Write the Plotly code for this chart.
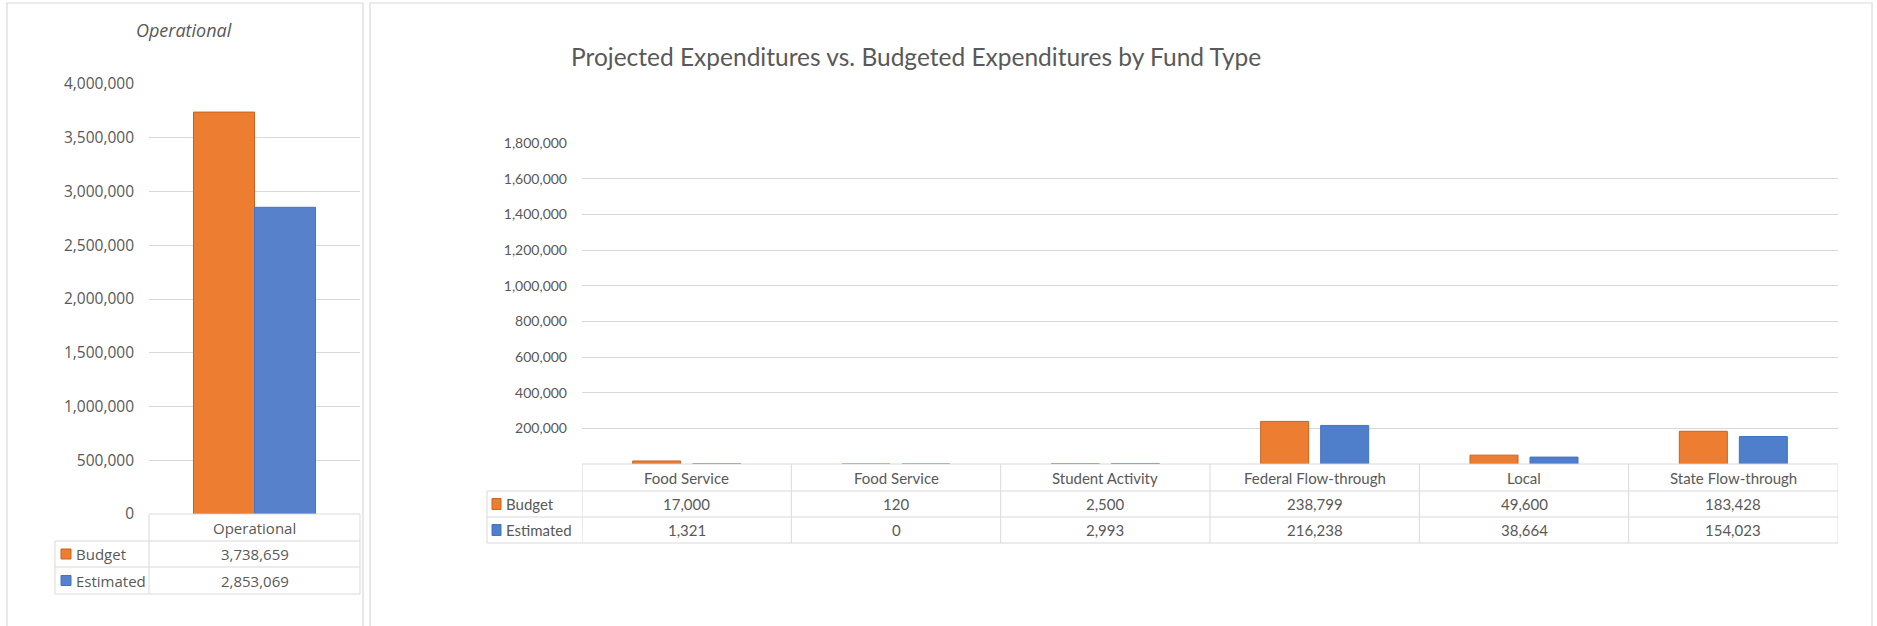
import plotly.graph_objects as go

# ---------------- data ----------------
op_category = ["Operational"]
op_budget = [3738659]
op_estimated = [2853069]

fund_categories = ["Food Service", "Food Service", "Student Activity",
                   "Federal Flow-through", "Local", "State Flow-through"]
fund_budget = [17000, 120, 2500, 238799, 49600, 183428]
fund_estimated = [1321, 0, 2993, 216238, 38664, 154023]

series_names = ["Budget", "Estimated"]
left_ticks = [0, 500000, 1000000, 1500000, 2000000, 2500000, 3000000, 3500000, 4000000]
right_ticks = [200000, 400000, 600000, 800000, 1000000, 1200000, 1400000, 1600000, 1800000]

title_main = "Projected Expenditures vs. Budgeted Expenditures by Fund Type"
title_left = "Operational"

# ---------------- styling ----------------
W, H = 1877, 626
ORANGE = "#ED7D31"
ORANGE_EDGE = "#C9621C"
BLUE = "#4F7FCA"
BLUE_EDGE = "#4472C4"
BLUE_LEFT = "#5782CB"
GRID = "#D9D9D9"
TXT = "#595959"
F_LEFT = "Open Sans"
F_RIGHT = "Lato"


def X(px):
    return px / W


def Y(py):
    return 1 - py / H


fig = go.Figure()

# left chart bars
lw = 61 / 211.0
fig.add_trace(go.Bar(x=[0], y=op_budget, name=series_names[0], xaxis="x", yaxis="y",
                     width=lw, offset=-lw, marker=dict(color=ORANGE, line=dict(color=ORANGE_EDGE, width=1))))
fig.add_trace(go.Bar(x=[0], y=op_estimated, name=series_names[1], xaxis="x", yaxis="y",
                     width=lw, offset=0, marker=dict(color=BLUE_LEFT, line=dict(color=BLUE_EDGE, width=1))))

# right chart bars
xs = list(range(len(fund_categories)))
colw = (1838 - 582) / 6.0
bw = 48 / colw
gap = 12 / colw
fig.add_trace(go.Bar(x=xs, y=fund_budget, name=series_names[0], xaxis="x2", yaxis="y2",
                     width=bw, offset=-(bw + gap / 2),
                     marker=dict(color=ORANGE, line=dict(color=ORANGE_EDGE, width=1))))
fig.add_trace(go.Bar(x=xs, y=fund_estimated, name=series_names[1], xaxis="x2", yaxis="y2",
                     width=bw, offset=gap / 2,
                     marker=dict(color=BLUE, line=dict(color=BLUE_EDGE, width=1))))

shapes = []
annotations = []


def line(x0, y0, x1, y1, xref="paper", color=GRID, width=1):
    shapes.append(dict(type="line", xref=xref, yref="paper", x0=x0, x1=x1,
                       y0=Y(y0), y1=Y(y1), line=dict(color=color, width=width), layer="above"))


def text(t, x, y, font, xref="paper", xanchor="center"):
    annotations.append(dict(text=t, x=x, y=y, xref=xref, yref="paper", xanchor=xanchor,
                            yanchor="middle", showarrow=False, font=font))


# panel borders
shapes.append(dict(type="rect", xref="paper", yref="paper", x0=X(7), x1=X(363), y0=Y(3), y1=Y(640),
                   line=dict(color=GRID, width=1.2), layer="below"))
shapes.append(dict(type="rect", xref="paper", yref="paper", x0=X(370), x1=X(1872), y0=Y(3), y1=Y(640),
                   line=dict(color=GRID, width=1.2), layer="below"))

# ---------- left table ----------
lt_top, lt_r1, lt_r2, lt_bot = 514, 541, 567, 594
lt_leg, lt_data, lt_right = 55, 149, 360
line(X(lt_data), lt_top, X(lt_right), lt_top)
for yy in (lt_r1, lt_r2, lt_bot):
    line(X(lt_leg), yy, X(lt_right), yy)
line(X(lt_leg), lt_r1, X(lt_leg), lt_bot)
line(X(lt_data), lt_top, X(lt_data), lt_bot)
line(X(lt_right), lt_top, X(lt_right), lt_bot)

tf_left = dict(family=F_LEFT, size=15, color=TXT)
text(op_category[0], 0, Y((lt_top + lt_r1) / 2), tf_left, xref="x")
rows_left = [(op_budget, ORANGE, ORANGE_EDGE, lt_r1, lt_r2), (op_estimated, BLUE_LEFT, BLUE_EDGE, lt_r2, lt_bot)]
for (vals, c, ce, ya, yb), nm in zip(rows_left, series_names):
    yc = (ya + yb) / 2
    text(f"{vals[0]:,}", 0, Y(yc), tf_left, xref="x")
    shapes.append(dict(type="rect", xref="paper", yref="paper", x0=X(61), x1=X(71), y0=Y(yc - 5), y1=Y(yc + 5),
                       fillcolor=c, line=dict(color=ce, width=1)))
    text(nm, X(74), Y(yc), tf_left, xanchor="left")

# ---------- right table ----------
rt_top, rt_r1, rt_r2, rt_bot = 464, 491, 517, 543
rt_leg, rt_data, rt_right = 487, 582, 1838
line(X(rt_data), rt_top, X(rt_right), rt_top)
for yy in (rt_r1, rt_r2, rt_bot):
    line(X(rt_leg), yy, X(rt_right), yy)
line(X(rt_leg), rt_r1, X(rt_leg), rt_bot)
for k in range(len(fund_categories) + 1):
    shapes.append(dict(type="line", xref="x2", yref="paper", x0=k - 0.5, x1=k - 0.5,
                       y0=Y(rt_top), y1=Y(rt_bot), line=dict(color=GRID, width=1), layer="above"))

tf_right = dict(family=F_RIGHT, size=15, color=TXT)
for i, cat in enumerate(fund_categories):
    text(cat, i, Y((rt_top + rt_r1) / 2), tf_right, xref="x2")
    text(f"{fund_budget[i]:,}", i, Y((rt_r1 + rt_r2) / 2), tf_right, xref="x2")
    text(f"{fund_estimated[i]:,}", i, Y((rt_r2 + rt_bot) / 2), tf_right, xref="x2")
rows_right = [(ORANGE, ORANGE_EDGE, rt_r1, rt_r2), (BLUE, BLUE_EDGE, rt_r2, rt_bot)]
for (c, ce, ya, yb), nm in zip(rows_right, series_names):
    yc = (ya + yb) / 2
    shapes.append(dict(type="rect", xref="paper", yref="paper", x0=X(492), x1=X(501), y0=Y(yc - 5.5),
                       y1=Y(yc + 5.5), fillcolor=c, line=dict(color=ce, width=1)))
    text(nm, X(504), Y(yc), tf_right, xanchor="left")

# titles
text(f"<i>{title_left}</i>", X(184), Y(30), dict(family=F_LEFT, size=18, color=TXT))
text(title_main, X(916), Y(56), dict(family=F_RIGHT, size=24.5, color=TXT))

fig.update_layout(
    width=W, height=H, autosize=False,
    margin=dict(l=0, r=0, t=0, b=0, pad=0),
    paper_bgcolor="white", plot_bgcolor="white",
    showlegend=False, barmode="overlay",
    shapes=shapes, annotations=annotations,
    xaxis=dict(domain=[X(lt_data), X(lt_right)], range=[-0.5, 0.5], showticklabels=False,
               showgrid=False, zeroline=False, automargin=False),
    yaxis=dict(domain=[Y(lt_top), Y(84)], range=[0, 4000000], tickvals=left_ticks, tickformat=",",
               gridcolor=GRID, gridwidth=1, zeroline=False, showline=False, ticks="", automargin=False,
               ticklabelstandoff=14, tickfont=dict(family=F_LEFT, size=15.5, color=TXT)),
    xaxis2=dict(domain=[X(rt_data), X(rt_right)], range=[-0.5, 5.5], showticklabels=False,
                showgrid=False, zeroline=False, anchor="y2", automargin=False),
    yaxis2=dict(domain=[Y(rt_top), Y(143)], range=[0, 1800000], tickvals=right_ticks, tickformat=",",
                gridcolor=GRID, gridwidth=1, zeroline=False, showline=False, ticks="", anchor="x2",
                automargin=False,
                ticklabelstandoff=14, tickfont=dict(family=F_RIGHT, size=14, color=TXT)),
)

fig.write_html("out.html", config={"responsive": False},
               post_script="document.body.style.margin='0';document.body.style.overflow='hidden';")
